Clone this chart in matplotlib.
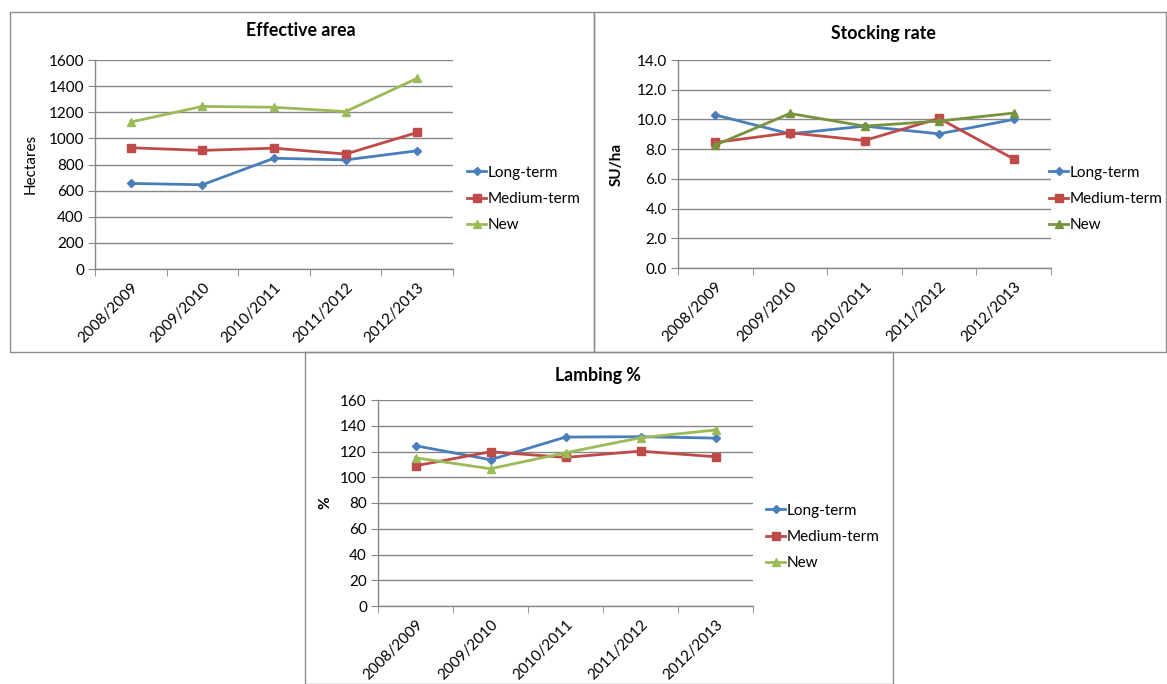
import matplotlib
matplotlib.use("Agg")
import matplotlib.pyplot as plt
from matplotlib.patches import Rectangle

plt.rcParams['font.family'] = ['Lato', 'DejaVu Sans']

seasons = ["2008/2009", "2009/2010", "2010/2011", "2011/2012", "2012/2013"]
series_names = ["Long-term", "Medium-term", "New"]

area_long = [655, 645, 848, 835, 905]
area_medium = [928, 908, 925, 880, 1045]
area_new = [1125, 1245, 1238, 1205, 1460]

stock_long = [10.3, 9.03, 9.55, 9.03, 10.0]
stock_medium = [8.45, 9.1, 8.58, 10.07, 7.34]
stock_new = [8.27, 10.4, 9.55, 9.89, 10.43]

lamb_long = [124.5, 113.6, 131.2, 131.5, 130.4]
lamb_medium = [108.9, 119.8, 115.4, 120.3, 115.9]
lamb_new = [115.1, 106.6, 119.0, 130.7, 136.7]

W, H = 1167, 684
fig = plt.figure(figsize=(W / 100, H / 100), dpi=100)

BLUE = "#4A7EBB"
RED = "#BE4B48"
GREEN = "#9BBB59"
DKGREEN = "#77933C"
GRID = "#878787"


def fx(px):
    return px / W


def fy(py):
    return 1 - py / H


# panel borders
for (x0, y0, x1, y1) in [(10, 12, 594, 352), (594, 12, 1166, 352), (305, 352, 893, 684)]:
    fig.add_artist(Rectangle((fx(x0), fy(y1)), fx(x1) - fx(x0), fy(y0) - fy(y1),
                             transform=fig.transFigure, fill=False,
                             edgecolor="#8c8c8c", linewidth=1.0, zorder=0))


def make_panel(rect, title, ylabel, ylabel_bold, data, ymax, ystep, fmt, green,
               title_y, ylabel_x, legend_anchor):
    x0, y0, x1, y1 = rect
    ax = fig.add_axes([fx(x0), fy(y1), fx(x1) - fx(x0), fy(y0) - fy(y1)])
    xs = list(range(len(seasons)))
    colors = [BLUE, RED, green]
    markers = ["D", "s", "^"]
    msizes = [4.5, 6, 6]
    for vals, c, m, ms, name in zip(data, colors, markers, msizes, series_names):
        ax.plot(xs, vals, color=c, marker=m, markersize=ms, linewidth=2,
                markeredgecolor=c, label=name, clip_on=False)
    ax.set_xlim(-0.5, len(seasons) - 0.5)
    ax.set_ylim(0, ymax)
    yt = [i * ystep for i in range(int(round(ymax / ystep)) + 1)]
    ax.set_yticks(yt)
    ax.set_yticklabels([fmt.format(v) for v in yt], fontsize=11)
    ax.yaxis.grid(True, color=GRID, linewidth=1)
    ax.set_axisbelow(True)
    ax.set_xticks(xs)
    ax.set_xticklabels(seasons, rotation=45, ha="right", rotation_mode="anchor", fontsize=11)
    ax.set_xticks([i - 0.5 for i in range(len(seasons) + 1)], minor=True)
    ax.tick_params(axis="x", which="major", length=0, pad=8)
    ax.tick_params(axis="x", which="minor", length=5, color=GRID)
    ax.tick_params(axis="y", length=5, color=GRID, pad=3)
    for s in ["top", "right"]:
        ax.spines[s].set_visible(False)
    for s in ["left", "bottom"]:
        ax.spines[s].set_color(GRID)
        ax.spines[s].set_linewidth(1)
    fig.text(fx(title_y[0]), fy(title_y[1]), title, ha="center", va="center",
             fontsize=12.8, fontweight="bold")
    fig.text(fx(ylabel_x[0]), fy(ylabel_x[1]), ylabel, ha="center", va="center",
             rotation=90, fontsize=11, fontweight="bold" if ylabel_bold else "normal")
    ax.legend(loc="center left", bbox_to_anchor=legend_anchor, frameon=False,
              fontsize=11, handlelength=1.25, handletextpad=0.1, labelspacing=0.8,
              borderpad=0, borderaxespad=0, markerscale=0.9)
    return ax


make_panel((95, 60, 453, 269), "Effective area", "Hectares", False,
           [area_long, area_medium, area_new], 1600, 200, "{:.0f}", GREEN,
           (301, 31), (31, 164), (1.04, 0.335))
make_panel((678, 60, 1051, 268), "Stocking rate", "SU/ha", True,
           [stock_long, stock_medium, stock_new], 14.0, 2.0, "{:.1f}", DKGREEN,
           (883, 33), (617, 164), (0.995, 0.332))
make_panel((378, 400, 753, 606), "Lambing %", "%", True,
           [lamb_long, lamb_medium, lamb_new], 160, 20, "{:.0f}", GREEN,
           (598, 375), (325, 503), (1.035, 0.335))

fig.savefig("out.png", dpi=100)
